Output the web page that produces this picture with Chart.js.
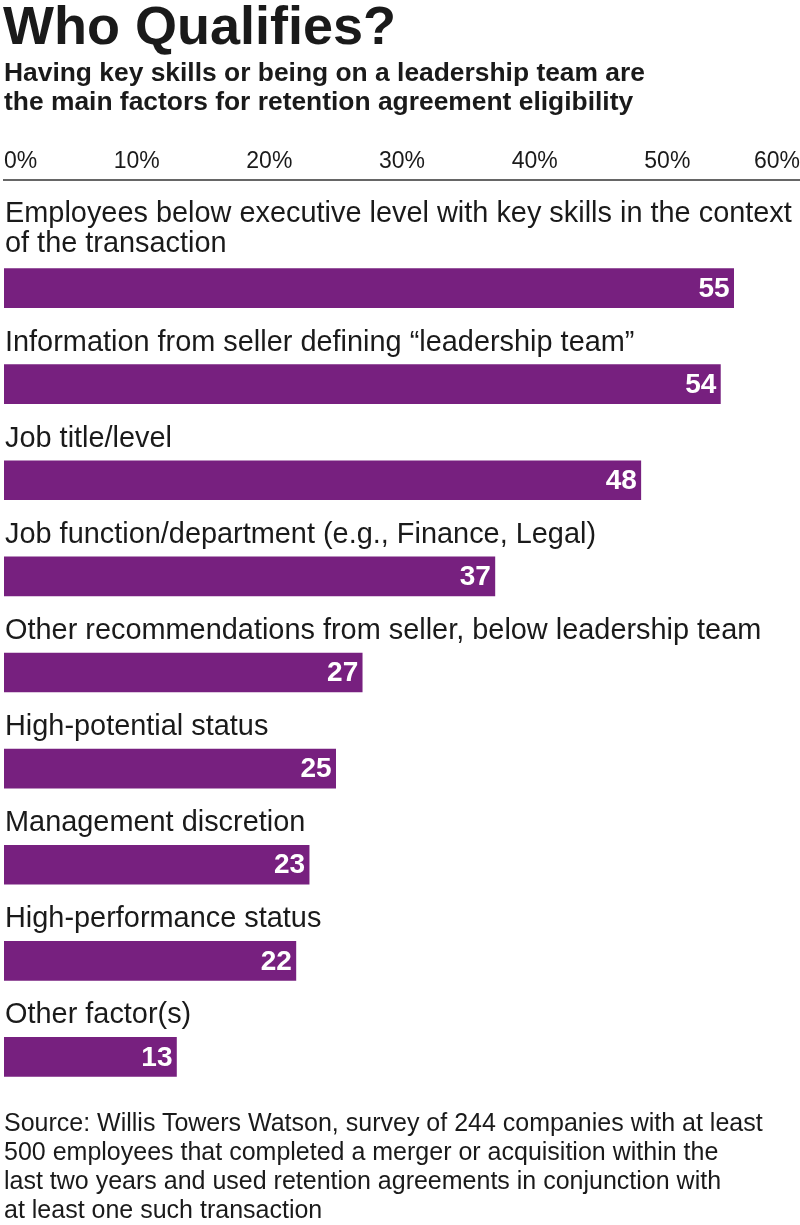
<!DOCTYPE html>
<html>
<head>
<meta charset="utf-8">
<script src="https://cdn.jsdelivr.net/npm/chart.js@4.4.1/dist/chart.umd.min.js"></script>
<style>
  html, body { margin: 0; padding: 0; background: #fff; }
  body { width: 800px; height: 1225px; position: relative; overflow: hidden; font-family: "Liberation Sans", Arial, sans-serif; color: #1a1a1a; }
  #chart-wrap { position: absolute; left: 0; top: 0; width: 800px; height: 1225px; }
  .title { position: absolute; left: 3px; top: -2px; font-size: 54px; line-height: 54px; font-weight: bold; white-space: nowrap; }
  .subtitle { position: absolute; left: 4px; top: 58px; font-size: 26.4px; line-height: 29px; font-weight: bold; white-space: nowrap; }
  .source { position: absolute; left: 4px; top: 1108px; font-size: 25px; line-height: 29px; white-space: nowrap; }
</style>
</head>
<body>
<div id="chart-wrap"><canvas id="qualifies-chart" width="800" height="1225"></canvas></div>
<div class="title">Who Qualifies?</div>
<div class="subtitle">Having key skills or being on a leadership team are<br>the main factors for retention agreement eligibility</div>
<div class="source">Source: Willis Towers Watson, survey of 244 companies with at least<br>500 employees that completed a merger or acquisition within the<br>last two years and used retention agreements in conjunction with<br>at least one such transaction</div>
<script>
const categories = [
    ["Employees below executive level with key skills in the context", "of the transaction"],
    ["Information from seller defining \u201cleadership team\u201d"],
    ["Job title/level"],
    ["Job function/department (e.g., Finance, Legal)"],
    ["Other recommendations from seller, below leadership team"],
    ["High-potential status"],
    ["Management discretion"],
    ["High-performance status"],
    ["Other factor(s)"]
];
const percentValues = [55, 54, 48, 37, 27, 25, 23, 22, 13];
const tickValues = [0, 10, 20, 30, 40, 50, 60];

const barColor = '#77207f';
const textColor = '#1a1a1a';

// draws the % axis at the top, the category label above each bar and the value inside the bar end
const labelPlugin = {
    id: 'labelPlugin',
    afterDatasetsDraw(chart) {
        const ctx = chart.ctx;
        const xScale = chart.scales.x;
        const meta = chart.getDatasetMeta(0);

        ctx.save();
        // top axis
        const axisY = 180;
        ctx.strokeStyle = '#333';
        ctx.lineWidth = 1.5;
        ctx.beginPath();
        ctx.moveTo(xScale.getPixelForValue(0) - 1, axisY);
        ctx.lineTo(800, axisY);
        ctx.stroke();

        ctx.fillStyle = textColor;
        ctx.font = '23px "Liberation Sans", Arial, sans-serif';
        ctx.textBaseline = 'alphabetic';
        tickValues.forEach((v, i) => {
            const x = xScale.getPixelForValue(v);
            if (i === 0) { ctx.textAlign = 'left'; ctx.fillText(v + '%', x, 168); }
            else if (i === tickValues.length - 1) { ctx.textAlign = 'right'; ctx.fillText(v + '%', x, 168); }
            else { ctx.textAlign = 'center'; ctx.fillText(v + '%', x, 168); }
        });

        meta.data.forEach((bar, i) => {
            const top = bar.y - bar.height / 2;
            const lines = categories[i];
            ctx.fillStyle = textColor;
            ctx.font = '28.9px "Liberation Sans", Arial, sans-serif';
            ctx.textAlign = 'left';
            const lastBase = top - (lines.length > 1 ? 17 : 14);
            lines.forEach((line, j) => {
                ctx.fillText(line, 5, lastBase - (lines.length - 1 - j) * 30);
            });

            ctx.fillStyle = '#fff';
            ctx.font = 'bold 28px "Liberation Sans", Arial, sans-serif';
            ctx.textAlign = 'right';
            ctx.textBaseline = 'middle';
            ctx.fillText(String(percentValues[i]), bar.x - 4, bar.y + 1);
            ctx.textBaseline = 'alphabetic';
        });
        ctx.restore();
    }
};

new Chart(document.getElementById('qualifies-chart').getContext('2d'), {
    type: 'bar',
    data: {
        labels: categories.map(c => c.join(' ')),
        datasets: [{
            data: percentValues,
            backgroundColor: barColor,
            borderWidth: 0,
            barThickness: 39
        }]
    },
    options: {
        indexAxis: 'y',
        responsive: false,
        animation: false,
        layout: { padding: { top: 240, bottom: 120, left: 4, right: 0 } },
        scales: {
            x: { display: false, min: 0, max: 60 },
            y: { display: false }
        },
        plugins: {
            legend: { display: false },
            tooltip: { enabled: false }
        }
    },
    plugins: [labelPlugin]
});
</script>
</body>
</html>
